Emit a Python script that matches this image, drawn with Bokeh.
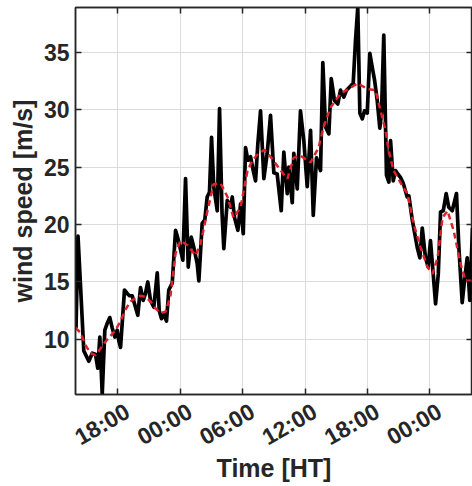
import pandas as pd
from math import pi
from bokeh.plotting import figure
from bokeh.models import Range1d, FixedTicker, DatetimeTickFormatter, DatetimeAxis, LinearAxis
from bokeh.embed import file_html
from bokeh.resources import INLINE

# ---- data ----
start = pd.Timestamp("2020-01-01 13:56")      # left edge of the axis
end_hours = 38.17                              # right edge shown, hours after start

raw_hours = [0.05, 0.24, 0.80, 1.28, 1.61, 1.92, 2.14, 2.34, 2.57, 2.82, 3.05, 3.30, 3.53, 3.78,
             4.01, 4.16, 4.33, 4.71, 4.97, 5.19, 5.45, 5.77, 5.99, 6.25, 6.51, 6.73, 6.95, 7.21,
             7.53, 7.86, 8.05, 8.27, 8.49, 8.75, 8.97, 9.30, 9.62, 9.84, 10.10, 10.32, 10.58,
             10.84, 11.13, 11.38, 11.70, 11.86, 12.18, 12.43, 12.66, 12.88, 13.08, 13.30, 13.63,
             13.85, 14.09, 14.26, 14.59, 14.90, 15.07, 15.29, 15.61, 15.87, 16.13, 16.35, 16.57,
             16.83, 17.09, 17.31, 17.53, 17.79, 18.11, 18.43, 18.75, 19.07, 19.39, 19.78, 20.03,
             20.36, 20.51, 20.84, 20.99, 21.32, 21.63, 21.95, 22.28, 22.60, 22.86, 23.17, 23.56,
             23.78, 24.04, 24.36, 24.59, 24.90, 25.22, 25.48, 25.80, 26.06, 26.38, 26.70, 26.92,
             27.14, 27.34, 27.57, 27.79, 28.05, 28.30, 28.53, 28.75, 29.01, 29.26, 29.42, 29.64,
             29.90, 30.13, 30.29, 30.55, 30.77, 30.99, 31.25, 31.51, 31.89, 32.05, 32.38, 32.86,
             33.11, 33.34, 33.65, 33.91, 34.13, 34.39, 34.62, 34.88, 35.10, 35.36, 35.64, 35.89,
             36.22, 36.63, 36.86, 37.18, 37.40, 37.66, 37.91, 38.17]
raw_speed = [11.0, 19.0, 9.0, 8.1, 8.8, 8.7, 7.5, 10.2, 5.2, 10.8, 11.4, 11.9, 11.0, 10.2,
             10.8, 9.9, 9.3, 14.3, 14.0, 13.8, 13.8, 12.8, 12.1, 14.5, 13.4, 14.0, 15.0, 13.4,
             12.8, 15.8, 12.5, 11.8, 12.2, 11.6, 14.3, 14.9, 19.5, 18.8, 17.8, 16.9, 24.0,
             16.3, 18.9, 18.0, 16.6, 15.1, 20.1, 20.4, 22.4, 22.8, 27.6, 23.2, 21.2,
             30.1, 21.0, 17.9, 22.1, 21.5, 22.4, 20.6, 19.5, 21.8, 19.2, 26.7, 25.6,
             25.9, 24.7, 23.8, 27.0, 29.9, 24.0, 26.2, 29.5, 24.5, 24.4, 21.2, 26.3,
             22.7, 25.0, 21.9, 26.2, 23.1, 29.9, 27.3, 23.3, 28.2, 20.8, 25.8, 24.7,
             34.1, 28.5, 27.9, 32.7, 30.8, 30.5, 31.7, 31.1, 31.7, 32.0, 32.3, 36.0,
             38.9, 29.7, 29.2, 29.9, 29.7, 34.9, 33.7, 32.6, 30.8, 28.4, 29.7, 36.5,
             24.3, 23.7, 27.3, 23.8, 24.7, 24.4, 24.1, 23.6, 22.4, 22.5, 20.4, 18.0,
             17.1, 19.7, 17.1, 16.3, 18.6, 15.7, 13.1, 15.7, 21.1, 21.2, 22.7, 21.5,
             21.2, 22.7, 18.0, 13.2, 15.1, 17.1, 13.4, 19.7]

smooth_hours = [0.0, 0.48, 0.96, 1.44, 1.92, 2.40, 2.88, 3.37, 3.85, 4.33, 4.81, 5.29, 5.77,
                6.25, 6.73, 7.21, 7.69, 8.17, 8.65, 9.13, 9.62, 10.10, 10.77, 11.54, 12.02,
                12.69, 13.27, 13.94, 14.62, 15.19, 15.87, 16.54, 17.02, 17.60, 18.17, 18.75,
                19.33, 19.90, 20.38, 20.96, 21.63, 22.60, 23.37, 23.85, 24.52, 25.48, 26.25,
                27.12, 28.08, 28.85, 29.33, 29.81, 30.10, 30.58, 31.54, 31.92, 32.50, 33.17,
                33.85, 34.33, 34.81, 35.29, 35.77, 36.35, 37.02, 37.50, 38.08]
smooth_speed = [11.0, 10.6, 9.5, 8.8, 8.6, 9.2, 9.8, 10.3, 10.8, 11.6, 12.6, 13.3, 13.6,
                13.8, 13.7, 13.3, 12.7, 12.3, 12.4, 13.8, 17.5, 18.6, 18.2, 17.3, 18.3,
                21.2, 23.5, 23.6, 22.4, 20.6, 21.5, 24.7, 25.6, 26.2, 26.5, 25.9,
                25.2, 24.5, 24.0, 25.8, 26.0, 25.4, 26.7, 28.5, 30.2, 31.4, 31.8,
                32.3, 31.8, 31.7, 29.9, 28.2, 26.5, 24.7, 23.2, 22.7, 20.1, 18.0,
                16.3, 15.7, 17.1, 20.6, 21.2, 19.5, 16.6, 15.1, 15.1]

tick_times = ["2020-01-01 18:00", "2020-01-02 00:00", "2020-01-02 06:00",
              "2020-01-02 12:00", "2020-01-02 18:00", "2020-01-03 00:00"]
y_ticks = [10, 15, 20, 25, 30, 35]
y_min, y_max = 5.2, 38.9

# ---- figure ----
raw_t = start + pd.to_timedelta(raw_hours, unit="h")
smooth_t = start + pd.to_timedelta(smooth_hours, unit="h")
end = start + pd.Timedelta(hours=end_hours)
label_shift = pd.Timedelta(hours=0.95)   # rotated labels sit right of their ticks

FONT = "Liberation Sans"
DARK = "#262626"

p = figure(width=472, height=486, x_axis_type="datetime",
           x_range=Range1d(start, end), y_range=Range1d(y_min, y_max),
           output_backend="svg", toolbar_location=None,
           min_border_left=75, min_border_right=0, min_border_top=7, min_border_bottom=92)
p.extra_x_ranges = {"lab": Range1d(start - label_shift, end - label_shift)}

p.line(raw_t, raw_speed, line_color="black", line_width=3.7, line_join="round")
p.line(smooth_t, smooth_speed, line_color="#e0202a", line_width=2.5, line_dash="6 4")

p.outline_line_color = DARK
p.outline_line_width = 1.5
p.background_fill_color = "white"
p.border_fill_color = "white"

p.xgrid.grid_line_color = "#dcdcdc"
p.ygrid.grid_line_color = "#dcdcdc"
p.xgrid.grid_line_width = 1
p.ygrid.grid_line_width = 1

tick_ms = [pd.Timestamp(t).value / 1e6 for t in tick_times]
fmt = "%H:%M"
def hm_formatter():
    return DatetimeTickFormatter(microseconds=fmt, milliseconds=fmt, seconds=fmt,
                                 minsec=fmt, minutes=fmt, hourmin=fmt, hours=fmt,
                                 days=fmt, months=fmt, years=fmt)

def tick_only(ax):
    ax.axis_line_color = DARK
    ax.axis_line_width = 1.5
    ax.major_tick_line_color = DARK
    ax.major_tick_line_width = 1.5
    ax.major_tick_in = 6
    ax.major_tick_out = 0
    ax.minor_tick_line_color = None

def no_labels(ax):
    ax.major_label_text_font_size = "0px"
    ax.major_label_text_color = None
    ax.major_label_standoff = 0

# main x axis (bottom): line + inward ticks only
xa = p.xaxis[0]
xa.ticker = FixedTicker(ticks=tick_ms)
xa.formatter = hm_formatter()
tick_only(xa)
no_labels(xa)

# top and right box ticks
top = DatetimeAxis(ticker=FixedTicker(ticks=tick_ms), formatter=hm_formatter())
tick_only(top)
no_labels(top)
p.add_layout(top, "above")
right = LinearAxis(ticker=FixedTicker(ticks=y_ticks))
tick_only(right)
no_labels(right)
p.add_layout(right, "right")

ya = p.yaxis[0]
ya.ticker = FixedTicker(ticks=y_ticks)
ya.axis_label = "wind speed [m/s]"
tick_only(ya)

# label axis for the rotated time labels and the x title
lab = DatetimeAxis(x_range_name="lab", ticker=FixedTicker(ticks=tick_ms),
                   formatter=hm_formatter(), axis_label="Time [HT]")
lab.axis_line_color = None
lab.major_tick_line_color = None
lab.minor_tick_line_color = None
lab.major_tick_in = 0
lab.major_tick_out = 0
lab.major_label_orientation = pi / 6
lab.major_label_standoff = 15
lab.axis_label_standoff = -10
p.add_layout(lab, "below")

for ax in (lab, ya):
    ax.major_label_text_font = FONT
    ax.major_label_text_font_style = "bold"
    ax.major_label_text_font_size = "23px"
    ax.major_label_text_color = DARK
    ax.axis_label_text_font = FONT
    ax.axis_label_text_font_style = "bold"
    ax.axis_label_text_font_size = "25px"
    ax.axis_label_text_color = DARK

ya.major_label_standoff = 6
ya.axis_label_standoff = 4

open("out.html", "w").write(file_html(p, INLINE))
